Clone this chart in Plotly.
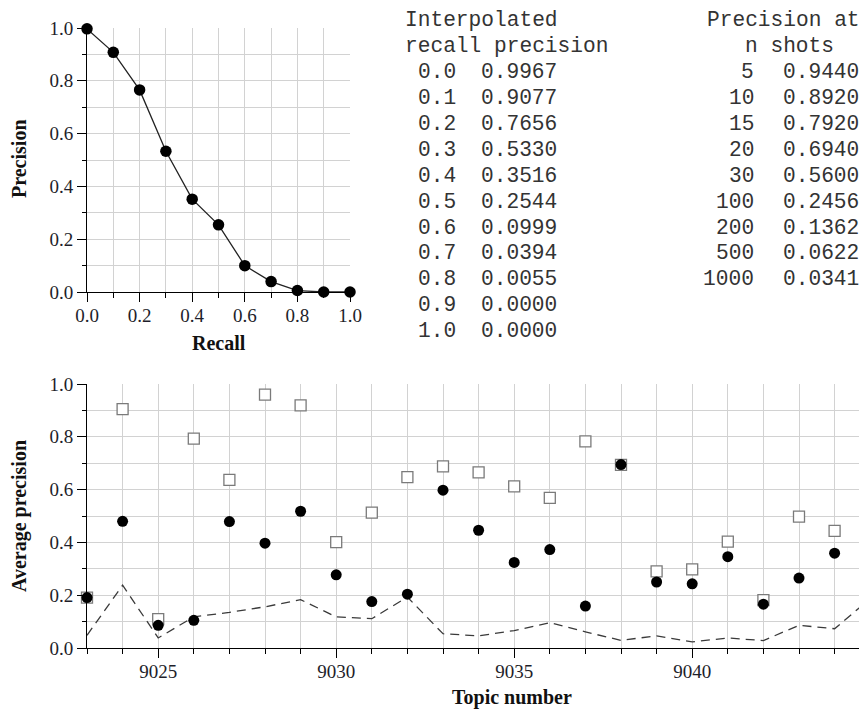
import plotly.graph_objects as go

# ---------------- data ----------------
recall_levels = [0.0, 0.1, 0.2, 0.3, 0.4, 0.5, 0.6, 0.7, 0.8, 0.9, 1.0]
interp_precision = [0.9967, 0.9077, 0.7656, 0.5330, 0.3516, 0.2544, 0.0999, 0.0394, 0.0055, 0.0000, 0.0000]

n_shots = [5, 10, 15, 20, 30, 100, 200, 500, 1000]
prec_at_n = [0.9440, 0.8920, 0.7920, 0.6940, 0.5600, 0.2456, 0.1362, 0.0622, 0.0341]

topics = list(range(9023, 9046))
run_ap = [0.191, 0.480, 0.086, 0.105, 0.479, 0.397, 0.518, 0.277, 0.176, 0.204, 0.598,
          0.446, 0.324, 0.373, 0.159, 0.695, 0.250, 0.243, 0.346, 0.166, 0.265, 0.359, 0.528]
best_ap = [0.191, 0.905, 0.109, 0.793, 0.637, 0.960, 0.919, 0.401, 0.513, 0.647, 0.688,
           0.665, 0.612, 0.569, 0.783, 0.694, 0.290, 0.298, 0.403, 0.181, 0.498, 0.444, 0.576]
median_ap = [0.048, 0.238, 0.038, 0.118, 0.135, 0.156, 0.183, 0.118, 0.111, 0.193, 0.054,
             0.046, 0.066, 0.096, 0.061, 0.029, 0.046, 0.023, 0.038, 0.028, 0.086, 0.073, 0.187]

# ---------------- layout helpers ----------------
OFF = 8          # page body margin
W, H = 867, 713  # figure size


def px(x):
    return (x - OFF) / W


def py(y):
    return 1 - (y - OFF) / H


GRID = "#d2d2d2"
TICKFONT = dict(family="Liberation Serif, Times New Roman, serif", size=19, color="#1e1e2a")
TITLEFONT = dict(family="Liberation Serif, Times New Roman, serif", size=20, color="#111")
MONO_SIZE = 21.2
CH = 0.6 * MONO_SIZE  # monospace character advance
MONO = dict(family="Liberation Mono, Courier New, monospace", size=MONO_SIZE, color="#333")


def axis_style(**kw):
    d = dict(
        showline=True, linecolor="black", linewidth=1,
        showgrid=True, gridcolor=GRID, gridwidth=1,
        ticks="outside", ticklen=9, tickcolor="black", tickwidth=1,
        zeroline=False, tickfont=TICKFONT, fixedrange=True, automargin=False,
    )
    d.update(kw)
    return d


def minor(dt, t0):
    return dict(dtick=dt, tick0=t0, showgrid=True, gridcolor=GRID,
                ticks="outside", ticklen=4.5, tickcolor="black")


# x range of the bottom panel: 9023 at pixel 87, 35.6 px per topic, cut at the window edge
x2_right = 9023 + (867 - 87) / 35.6

fig = go.Figure()

# Top: interpolated recall-precision curve
fig.add_trace(go.Scatter(
    x=recall_levels, y=interp_precision, mode="lines+markers",
    line=dict(color="#222", width=1.3),
    marker=dict(color="black", size=11.5),
    xaxis="x", yaxis="y", cliponaxis=False, showlegend=False,
))

# Bottom: per-topic average precision
fig.add_trace(go.Scatter(
    x=topics, y=median_ap, mode="lines",
    line=dict(color="#3a3a3a", width=1.3, dash="9px,6px"),
    xaxis="x2", yaxis="y2", cliponaxis=True, showlegend=False,
))
fig.add_trace(go.Scatter(
    x=topics, y=best_ap, mode="markers",
    marker=dict(symbol="square", color="white", size=11,
                line=dict(color="#7a7a7a", width=1.3)),
    xaxis="x2", yaxis="y2", cliponaxis=False, showlegend=False,
))
fig.add_trace(go.Scatter(
    x=topics, y=run_ap, mode="markers",
    marker=dict(color="black", size=11),
    xaxis="x2", yaxis="y2", cliponaxis=False, showlegend=False,
))

fig.update_layout(
    width=W, height=H,
    margin=dict(l=0, r=0, t=0, b=0, pad=0, autoexpand=False),
    paper_bgcolor="white", plot_bgcolor="white",
    xaxis=axis_style(domain=[px(87), px(350)], range=[0, 1], dtick=0.2, tick0=0,
                     tickformat=".1f", anchor="y", minor=minor(0.1, 0),
                     ticklabelstandoff=-3),
    yaxis=axis_style(domain=[py(292), py(28)], range=[0, 1], dtick=0.2, tick0=0,
                     tickformat=".1f", anchor="x", minor=minor(0.1, 0)),
    xaxis2=axis_style(domain=[px(87), px(867)], range=[9023, x2_right], dtick=5, tick0=9025,
                      anchor="y2", minor=minor(1, 9023), ticklabelstandoff=-3),
    yaxis2=axis_style(domain=[py(648), py(384)], range=[0, 1], dtick=0.2, tick0=0,
                      tickformat=".1f", anchor="x2", minor=minor(0.1, 0)),
)

ann = []
# axis titles
ann.append(dict(text="<b>Recall</b>", x=px(219), y=py(343), font=TITLEFONT))
ann.append(dict(text="<b>Topic number</b>", x=px(512), y=py(697), font=TITLEFONT))
ann.append(dict(text="<b>Precision</b>", x=px(19), y=py(159), font=TITLEFONT, textangle=-90))
ann.append(dict(text="<b>Average precision</b>", x=px(19), y=py(516), font=TITLEFONT, textangle=-90))

# table 1: interpolated recall precision
row0, step = 72.3, 25.87
L1 = 403
ann.append(dict(text="Interpolated", x=px(L1), y=py(20), font=MONO, xanchor="left"))
ann.append(dict(text="recall precision", x=px(L1), y=py(46.5), font=MONO, xanchor="left"))
for i, (r, p) in enumerate(zip(recall_levels, interp_precision)):
    yy = py(row0 + i * step)
    ann.append(dict(text=f"{r:.1f}", x=px(L1 + CH), y=yy, font=MONO, xanchor="left"))
    ann.append(dict(text=f"{p:.4f}", x=px(L1 + 6 * CH), y=yy, font=MONO, xanchor="left"))

# table 2: precision at n shots
L2 = 705
ann.append(dict(text="Precision at", x=px(L2), y=py(20), font=MONO, xanchor="left"))
ann.append(dict(text="n shots", x=px(L2 + 3 * CH), y=py(46.5), font=MONO, xanchor="left"))
for i, (n, p) in enumerate(zip(n_shots, prec_at_n)):
    yy = py(row0 + i * step)
    ann.append(dict(text=f"{n}", x=px(L2 + 4 * CH), y=yy, font=MONO, xanchor="right"))
    ann.append(dict(text=f"{p:.4f}", x=px(L2 + 6 * CH), y=yy, font=MONO, xanchor="left"))

for a in ann:
    a.setdefault("xanchor", "center")
    a.update(xref="paper", yref="paper", yanchor="middle", showarrow=False)

fig.update_layout(annotations=ann)

fig.write_html("out.html", config={"displayModeBar": False})
